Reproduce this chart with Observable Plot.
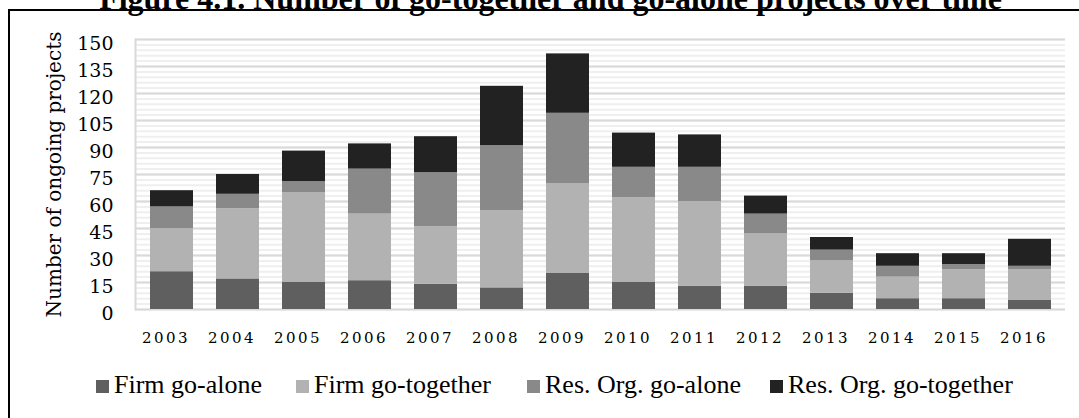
<!DOCTYPE html>
<html>
<head>
<meta charset="utf-8">
<script src="https://cdn.jsdelivr.net/npm/d3@7"></script>
<script src="https://cdn.jsdelivr.net/npm/@observablehq/plot@0.6"></script>
<style>
  html, body { margin: 0; padding: 0; background: #fff; }
  body { width: 1079px; height: 418px; overflow: hidden; position: relative; }
  #title { position: absolute; left: 0; width: 1101px; top: -18px; text-align: center;
    font: bold 32px "Liberation Serif", serif; line-height: 32px; color: #000; white-space: nowrap; }
  #frame { position: absolute; left: 8px; top: 9px; width: 1200px; height: 600px;
    border: 2px solid #000; box-sizing: border-box; }
  #chart { position: absolute; left: 0; top: 0; }
  #legend { position: absolute; left: 0; top: 0; width: 1079px; height: 418px; pointer-events: none; }
  .item { position: absolute; top: 372px; display: flex; align-items: center; height: 26px;
    font: 26px "Liberation Serif", serif; line-height: 26px; color: #000; white-space: nowrap; }
  .sw { width: 13px; height: 13px; margin-right: 5px; margin-top: 3px; }
  g[aria-label="x-axis tick label"] text { letter-spacing: 2.5px; }
  g[aria-label="y-axis label"] text { font-size: 20px; }
</style>
</head>
<body>
<div id="title">Figure 4.1. Number of go-together and go-alone projects over time</div>
<div id="frame"></div>
<div id="chart"></div>
<div id="legend"></div>
<script>
const years = ["2003","2004","2005","2006","2007","2008","2009","2010","2011","2012","2013","2014","2015","2016"];
const firmAlone    = [21, 17, 15, 16, 14, 12, 20, 15, 13, 13,  9,  6,  6,  5];
const firmTogether = [24, 39, 50, 37, 32, 43, 50, 47, 47, 29, 18, 12, 16, 17];
const resAlone     = [12,  8,  6, 25, 30, 36, 39, 17, 19, 11,  6,  6,  3,  2];
const resTogether  = [ 9, 11, 17, 14, 20, 33, 33, 19, 18, 10,  7,  7,  6, 15];
const seriesNames  = ["Firm go-alone", "Firm go-together", "Res. Org. go-alone", "Res. Org. go-together"];
const seriesColors = ["#5f5f5f", "#b2b2b2", "#898989", "#222222"];
const yTicks = [0, 15, 30, 45, 60, 75, 90, 105, 120, 135, 150];
const legendLeft = [96, 296, 527, 770];

const seriesValues = [firmAlone, firmTogether, resAlone, resTogether];
const rows = [];
seriesNames.forEach((s, i) => years.forEach((y, j) => rows.push({year: y, series: s, value: seriesValues[i][j]})));
const minorTicks = d3.range(0, 151, 3);

const chart = Plot.plot({
  width: 1079,
  height: 350,
  marginTop: 39,
  marginBottom: 41,
  marginLeft: 135,
  marginRight: 14,
  style: {fontFamily: "'DejaVu Serif', serif", fontSize: "17px", color: "#000", background: "none", overflow: "visible"},
  x: {domain: years, paddingInner: 0.35, paddingOuter: 0.175, label: null},
  y: {domain: [0, 150], label: null},
  color: {domain: seriesNames, range: seriesColors},
  marks: [
    Plot.ruleY(minorTicks, {stroke: "#efefef", strokeWidth: 2}),
    Plot.ruleY(yTicks, {stroke: "#d9d9d9", strokeWidth: 2}),
    Plot.frame({anchor: "left", stroke: "#d9d9d9", strokeWidth: 2}),
    Plot.barY(rows, Plot.stackY({x: "year", y: "value", fill: "series", order: seriesNames})),
    Plot.axisY(yTicks, {tickSize: 0, tickPadding: 22, dy: 4, fontSize: 19,
      label: "Number of ongoing projects", labelAnchor: "center", labelArrow: "none", labelOffset: 89}),
    Plot.axisX({tickSize: 0, tickPadding: 23, dx: -6, fontSize: 15, label: null})
  ]
});
document.getElementById("chart").appendChild(chart);

const legend = document.getElementById("legend");
seriesNames.forEach((s, i) => {
  const it = document.createElement("div");
  it.className = "item";
  it.style.left = legendLeft[i] + "px";
  const sw = document.createElement("span");
  sw.className = "sw";
  sw.style.background = seriesColors[i];
  it.appendChild(sw);
  it.appendChild(document.createTextNode(s));
  legend.appendChild(it);
});
</script>
</body>
</html>
